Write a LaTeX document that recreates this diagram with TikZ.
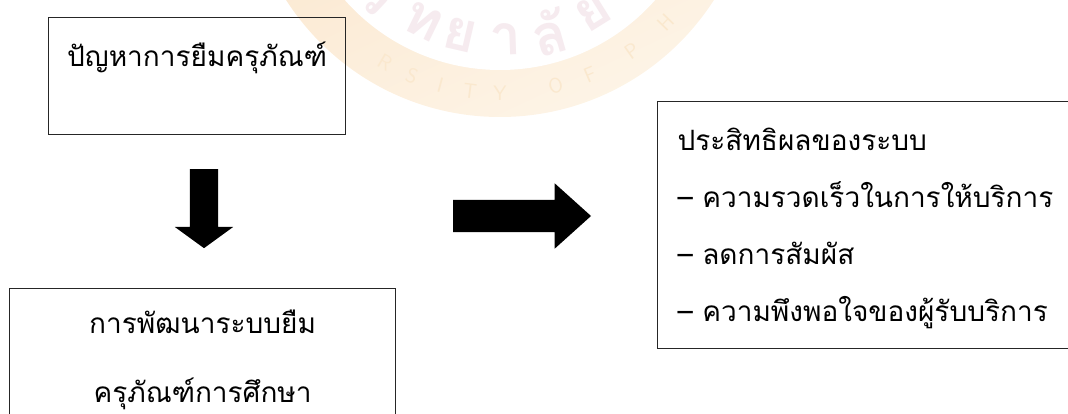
\documentclass[tikz,border=0pt]{standalone}
\usepackage{fontspec}
\usepackage{xcolor}
\usetikzlibrary{shapes.arrows}
\newfontfamily\thaifont[Script=Thai]{Loma}
\definecolor{sealband}{HTML}{FEF6EA}
\definecolor{sealdark}{HTML}{FBE9D2}
\definecolor{sealmark}{HTML}{F6EBEF}
\definecolor{sealletter}{HTML}{FAE8CE}
\begin{document}
\begin{tikzpicture}[x=1pt,y=-1pt,
    textbox/.style={draw=black!85, line width=1.2pt, inner sep=0pt, font=\thaifont\fontsize{28}{57}\selectfont},
    downarrow/.style={single arrow, fill=black, inner sep=14pt, shape border rotate=270,
        minimum height=79pt, minimum width=58pt, single arrow head extend=15pt,
        single arrow tip angle=108, single arrow head indent=0pt},
    rightarrow/.style={single arrow, fill=black, inner sep=16pt,
        minimum height=138pt, minimum width=65pt, single arrow head extend=16.5pt,
        single arrow tip angle=84, single arrow head indent=0pt}]
    \useasboundingbox (0,0) rectangle (1068,414);
    % Faint seal behind the boxes
    \begin{scope}
    \clip (0,0) rectangle (1068,414);
    \begin{scope}
    \clip (500,-137) circle (254);
    \shade[top color=sealdark, bottom color=sealband, shading angle=25] (240,-70) rectangle (760,140);
    \end{scope}
    \fill[white] (500,-137) circle (207);
    \foreach \letter/\ang in {R/120,S/112.5,I/105,T/97.5,Y/90,O/76,F/67,P/55,H/44,A/28}
        \node[sealletter, font=\sffamily\fontsize{21}{21}\selectfont, rotate=90-\ang] (seal\letter) at ({500+230*cos(\ang)},{-137+230*sin(\ang)}) {\letter};
    \foreach \mark/\num/\ang in {วิ/1/133,ท/2/116,ย/3/103,า/4/88,ลั/5/74,ย/6/58,พ/7/39}
        \node[sealmark, font=\thaifont\bfseries\fontsize{56}{56}\selectfont, rotate=90-\ang] (sealmark\num) at ({500+176*cos(\ang)},{-137+176*sin(\ang)}) {\mark};
    \end{scope}
    % Boxes
    \node[textbox, anchor=north west, minimum width=297pt, minimum height=117pt, align=center] (problem) at (48,17) {ปัญหาการยืมครุภัณฑ์\\[-14pt] ~};
    \node[textbox, anchor=north west, minimum width=386pt, minimum height=143pt, align=center] (develop) at (9,288) {การพัฒนาระบบยืม\\[12pt]ครุภัณฑ์การศึกษา};
    \node[textbox, anchor=north west, minimum width=425pt, minimum height=247pt, text width=385pt, align=left] (result) at (657,101) {\rule{0pt}{30pt}ประสิทธิผลของระบบ\\– ความรวดเร็วในการให้บริการ\\– ลดการสัมผัส\\– ความพึงพอใจของผู้รับบริการ};
    % Block arrows
    \node[downarrow] (arrowdown) at (204,203.5) {};
    \node[rightarrow] (arrowright) at (513,216) {};
\end{tikzpicture}
\end{document}
